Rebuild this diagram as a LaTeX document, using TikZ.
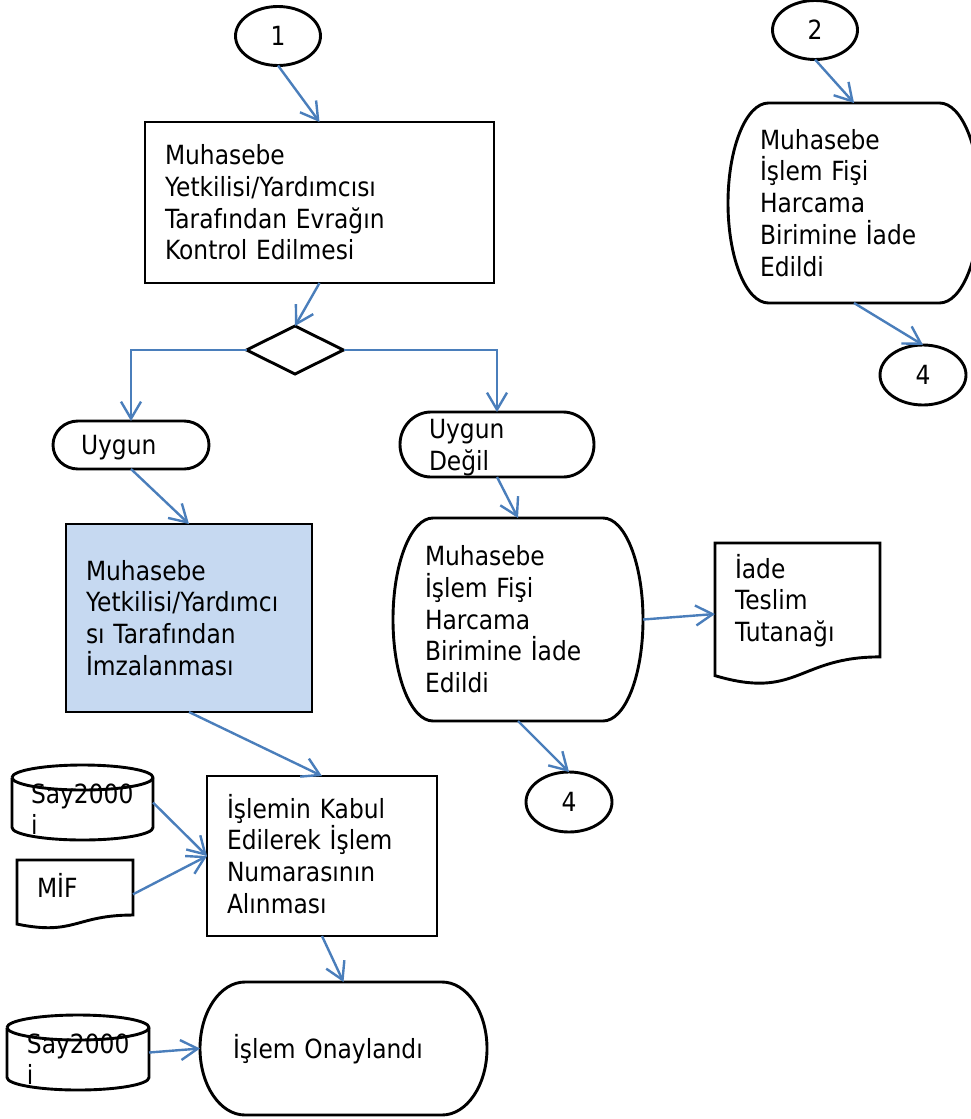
\documentclass[tikz,border=0pt]{standalone}
\usepackage{fontspec}
\setmainfont{DejaVu Sans}[FakeStretch=0.885]
\usetikzlibrary{shapes.geometric}
\usetikzlibrary{arrows.meta}
\usetikzlibrary{calc}

\definecolor{linkblue}{RGB}{74,126,187}
\definecolor{signfill}{RGB}{198,217,241}

\begin{document}
\begin{tikzpicture}
[x=1pt,y=-1pt,%
  every node/.style={inner ysep=0pt,outer sep=0pt,text height=19.3pt,text depth=0pt},%
  outline/.style={draw=black,line width=2.9pt},%
  proc/.style={shape=rectangle,outline,align=left},%
  textbox/.style={shape=rectangle,align=left},%
  connector/.style={shape=ellipse,outline,inner xsep=0pt,minimum width=85pt,minimum height=59pt},%
  flow/.style={draw=linkblue,line width=2.4pt,-{Straight Barb[length=17pt,width=20pt]}},%
  font=\fontsize{26.4pt}{31.7pt}\selectfont]
\useasboundingbox (0,0) rectangle (971,1119);
%% left column
\node[connector] (c1) at (278,36) {1};
\node[proc,minimum width=349pt,minimum height=161pt,text width=309pt,inner xsep=20pt,text depth=95.1pt]
  (kontrol) at (319.5,202.5) {Muhasebe\\Yetkilisi/Yardımcısı\\Tarafından Evrağın\\Kontrol Edilmesi};
\node[shape=diamond,outline,inner sep=0pt,text height=0pt,minimum width=97pt,minimum height=48pt]
  (karar) at (295,350) {};
\node[textbox,minimum width=156pt,minimum height=48pt,text width=100pt,inner xsep=28pt]
  (uygun) at (131,445) {Uygun};
\node[proc,fill=signfill,minimum width=246pt,minimum height=188pt,text width=206pt,inner xsep=20pt,text depth=95.1pt]
  (imza) at (189,618) {Muhasebe\\Yetkilisi/Yardımcı\\sı Tarafından\\İmzalanması};
\node[proc,minimum width=230pt,minimum height=160pt,text width=190pt,inner xsep=20pt,text depth=95.1pt]
  (kabul) at (322,856) {İşlemin Kabul\\Edilerek İşlem\\Numarasının\\Alınması};
\node[textbox,minimum width=287pt,minimum height=133pt,text width=221pt,inner xsep=33pt]
  (onay) at (343.5,1048.5) {İşlem Onaylandı};
\node[textbox,minimum width=141pt,minimum height=75pt,text width=103pt,inner xsep=19pt,text depth=18.3pt]
  (say1) at (82.5,802.5) {Say2000\\i};
\node[textbox,minimum width=116pt,minimum height=68.6pt,text width=76pt,inner xsep=20pt,text depth=13.9pt]
  (mif) at (75,894.3) {MİF};
\node[textbox,minimum width=142pt,minimum height=75pt,text width=102pt,inner xsep=20pt,text depth=18.3pt]
  (say2) at (78,1052.5) {Say2000\\i};
%% middle column
\node[textbox,minimum width=194pt,minimum height=65pt,text width=136pt,inner xsep=29pt,text depth=31.7pt]
  (degil) at (497,444.5) {Uygun\\Değil};
\node[textbox,minimum width=250pt,minimum height=203pt,text width=186pt,inner xsep=32pt,text depth=126.8pt]
  (fis) at (518,619.5) {Muhasebe\\İşlem Fişi\\Harcama\\Birimine İade\\Edildi};
\node[textbox,minimum width=165pt,minimum height=142pt,text width=125pt,inner xsep=20pt,text depth=91.3pt]
  (tutanak) at (797.5,614) {İade\\Teslim\\Tutanağı};
\node[connector,minimum width=86pt,minimum height=60pt] (c4a) at (569,802) {4};
%% right column
\node[connector] (c2) at (815,30) {2};
\node[textbox,minimum width=252pt,minimum height=200pt,text width=188pt,inner xsep=32pt,text depth=126.8pt]
  (fis2) at (854,203) {Muhasebe\\İşlem Fişi\\Harcama\\Birimine İade\\Edildi};
\node[connector,minimum width=86pt,minimum height=60pt] (c4b) at (923,375) {4};
%% terminal outlines
\foreach \n/\rx/\ry in {uygun/25pt/24pt, degil/31pt/32.5pt, onay/45pt/66.5pt, fis/40pt/101.5pt, fis2/40.5pt/100pt}
{
  \draw[outline] ([xshift=\rx]\n.north west) -- ([xshift=-\rx]\n.north east)
    arc[start angle=90,end angle=-90,x radius=\rx,y radius=\ry]
    -- ([xshift=\rx]\n.south west)
    arc[start angle=270,end angle=90,x radius=\rx,y radius=\ry] -- cycle;
}
%% disks
\foreach \n/\rx in {say1/70.5pt, say2/71pt}
{
  \draw[outline] ([yshift=-12.5pt]\n.north west) -- ([yshift=12.5pt]\n.south west)
    arc[start angle=180,end angle=360,x radius=\rx,y radius=12.5pt]
    -- ([yshift=-12.5pt]\n.north east)
    arc[start angle=0,end angle=180,x radius=\rx,y radius=12.5pt];
  \draw[outline] ([yshift=-12.5pt]\n.north west)
    arc[start angle=180,end angle=360,x radius=\rx,y radius=12.5pt];
}
%% documents
\foreach \n in {mif, tutanak}
{
  \draw[outline] (\n.north west) -- (\n.north east) -- ($(\n.north east)!0.802!(\n.south east)$)
    .. controls ($(\n.north)!0.802!(\n.south)$) and ($(\n.north)!1.107!(\n.south)$) ..
    ($(\n.north west)!0.934!(\n.south west)$) -- cycle;
}
%% connectors
\path
\foreach \startNode/\endNode in {c1.south/kontrol.north, kontrol.south/karar.north,
  uygun.south/imza.north, degil.south/fis.north, fis.east/tutanak.west, fis.south/c4a.north,
  imza.south/kabul.north, say1.east/kabul.west, mif.east/kabul.west, kabul.south/onay.north,
  say2.east/onay.west, c2.south/fis2.north, fis2.south/c4b.north}
{
  (\startNode) edge[flow] (\endNode)
};
\draw[flow] (karar.west) -| (uygun.north);
\draw[flow] (karar.east) -| (degil.north);
\end{tikzpicture}
\end{document}
